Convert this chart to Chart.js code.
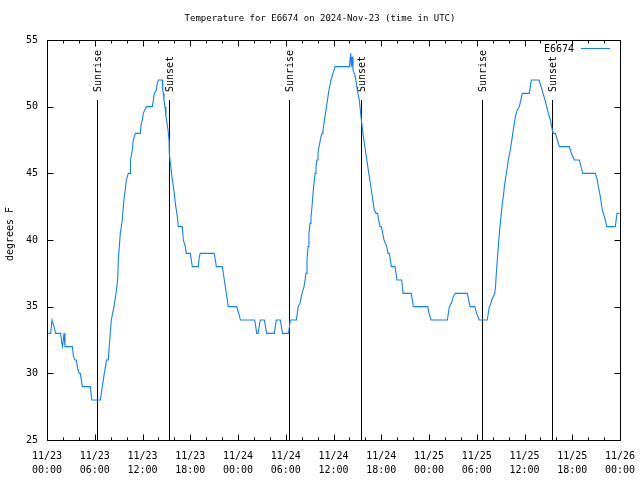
<!DOCTYPE html>
<html><head><meta charset="utf-8">
<script src="https://cdn.jsdelivr.net/npm/chart.js@4/dist/chart.umd.min.js"></script>
<style>html,body{margin:0;padding:0;background:#fff;}#wrap{width:640px;height:480px;}</style>
</head><body><div id="wrap"><canvas id="c" width="640" height="480"></canvas></div>
<script>
const titleText = 'Temperature for E6674 on 2024-Nov-23 (time in UTC)';
const seriesName = 'E6674';
const yAxisTitle = 'degrees F';
const tickDates = ['11/23','11/23','11/23','11/23','11/24','11/24','11/24','11/24','11/25','11/25','11/25','11/25','11/26'];
const tickTimes = ['00:00','06:00','12:00','18:00','00:00','06:00','12:00','18:00','00:00','06:00','12:00','18:00','00:00'];
const yTickValues = [25,30,35,40,45,50,55];
const sunEventHours = [6.32, 15.37, 30.43, 39.40, 54.60, 63.50];
const sunEventLabels = ['Sunrise','Sunset','Sunrise','Sunset','Sunrise','Sunset'];
// hours since 2024-11-23 00:00 UTC
const hours = [0.16,0.46,0.63,0.72,0.88,1.09,1.72,1.85,1.95,2.14,2.26,2.39,3.18,3.33,3.52,3.68,3.90,4.06,4.18,4.44,5.44,5.63,6.70,6.82,6.95,7.20,7.41,7.48,7.70,7.88,8.08,8.42,8.67,8.88,8.96,9.09,9.21,9.34,9.46,9.59,9.71,9.84,9.97,10.22,10.43,10.49,10.72,10.84,11.10,11.72,11.85,11.98,12.10,12.48,13.24,13.36,13.49,13.74,13.86,13.99,14.49,14.54,14.62,14.70,14.83,14.95,15.21,15.33,15.37,15.50,15.75,16.00,16.12,16.25,16.37,16.50,17.00,17.13,17.38,17.50,18.01,18.26,19.01,19.14,19.26,21.02,21.28,22.03,22.28,22.53,22.66,22.78,23.84,23.96,24.21,24.29,26.10,26.23,26.35,26.52,26.80,27.31,27.61,28.56,28.81,29.32,29.59,30.35,30.57,31.33,31.56,31.79,32.04,32.30,32.42,32.55,32.67,32.80,32.92,33.05,33.17,33.30,33.43,33.55,33.68,33.80,33.93,34.05,34.18,34.43,34.56,34.68,34.93,35.18,35.43,35.69,35.94,36.19,37.99,38.16,38.24,38.33,38.45,38.74,38.99,39.24,39.37,39.50,39.75,40.00,40.25,40.50,40.75,41.00,41.13,41.34,41.53,41.68,41.85,42.01,42.18,42.35,42.69,42.85,43.01,43.27,43.73,43.98,44.57,44.74,45.78,46.03,47.84,48.00,48.26,50.30,50.56,50.81,51.06,51.31,52.82,53.07,53.19,53.74,53.99,54.32,55.32,55.58,55.71,55.88,56.26,56.36,56.46,56.58,56.71,56.84,56.96,57.09,57.21,57.34,57.47,57.59,57.72,57.97,58.22,58.47,58.72,58.85,59.10,59.35,59.73,60.61,60.73,60.86,61.83,62.08,62.33,62.58,63.00,63.25,63.50,63.62,63.87,64.13,64.38,65.63,65.89,66.26,66.89,67.32,68.90,69.15,69.28,69.53,69.78,70.16,70.33,71.41,71.63,71.92];
const tempsF = [33,33,34,34,33.5,33,33,32.3,32,33,32,32,32,31.25,31,31,30.25,30,30,29,29,28,28,28.5,29,30,30.75,31,31,32.5,34,35,36,37,38.5,39.5,40.5,41,41.5,42.5,43.25,43.75,44.5,45,45,46,46.75,47.5,48,48,48.75,49,49.5,50,50,50.5,51,51.25,51.75,52,52,51.25,51,50.5,50,49.25,48.25,47.5,46.5,45.75,44.5,43.5,42.75,42.25,41.75,41,41,40,39.5,39,39,38,38,38.75,39,39,38,38,37,36,35.5,35,35,34.75,34.25,34,34,33.5,33,33,34,34,33,33,34,34,33,33,34,34,35,35.25,36,36.5,37,37.5,38.5,39.5,40.5,41.25,41.75,42.5,43.5,44.25,45,45.5,46,46.5,47,47.75,48,48.25,49.25,50.25,51.25,52,52.5,53,53,54,53,53.75,52.75,52.25,51.25,50.5,49.75,49,47.75,46.75,45.75,44.75,43.75,42.75,42.25,42,42,41.5,41,41,40.5,40,39.5,39,39,38,38,37,37,36,36,35,35,34.5,34,34,35,35.25,35.75,36,36,35.25,35,35,34.5,34,34,35,35.1,35.5,36,36.5,37.5,38.5,39.5,40.5,41.25,42,42.75,43.25,44,44.5,45,46,46.75,47.75,48.75,49.25,49.75,50,51,51,51.5,52,52,51.5,51,50.5,49.5,49,48.25,48,48,47.5,47,47,46.5,46,46,45,45,44.5,44,43.25,42.25,41.5,41,41,42,42];

const FONT_FAMILY = "'DejaVu Sans Mono', monospace";
const FONT_SIZE = 10;
const FONT = FONT_SIZE + 'px ' + FONT_FAMILY;
const TITLE_FONT = '9px ' + FONT_FAMILY;
const LINE_COLOR = '#1080ff';

const decor = {
  id: 'decor',
  beforeDatasetsDraw(chart) {
    const {ctx, chartArea: a, scales: {x}} = chart;
    const h = a.bottom - a.top;
    ctx.save();
    ctx.strokeStyle = '#000'; ctx.lineWidth = 1; ctx.fillStyle = '#000';
    ctx.font = FONT;
    sunEventHours.forEach((t, i) => {
      const px = Math.round(x.getPixelForValue(t)) + 0.5;
      ctx.beginPath();
      ctx.moveTo(px, a.bottom);
      ctx.lineTo(px, Math.round(a.bottom - 0.85 * h));
      ctx.stroke();
      ctx.save();
      ctx.translate(px + 1, a.bottom - 0.87 * h);
      ctx.rotate(-Math.PI / 2);
      ctx.textAlign = 'left'; ctx.textBaseline = 'middle';
      ctx.fillText(sunEventLabels[i], 0, 0);
      ctx.restore();
    });
    ctx.restore();
  },
  afterDatasetsDraw(chart) {
    const {ctx, chartArea: a, scales: {x, y}} = chart;
    ctx.save();
    ctx.strokeStyle = '#000'; ctx.lineWidth = 1;
    const L = Math.round(a.left) + 0.5, R = Math.round(a.right) + 0.5;
    const T = Math.round(a.top) + 0.5, B = Math.round(a.bottom) + 0.5;
    ctx.strokeRect(L, T, R - L, B - T);
    ctx.beginPath();
    for (let v = x.min; v <= x.max + 1e-9; v += 2) {
      const px = Math.round(x.getPixelForValue(v)) + 0.5;
      const len = (v % 6 === 0) ? 6 : 3;
      ctx.moveTo(px, B); ctx.lineTo(px, B - len);
      ctx.moveTo(px, T); ctx.lineTo(px, T + len);
    }
    yTickValues.forEach(v => {
      const py = Math.round(y.getPixelForValue(v)) + 0.5;
      ctx.moveTo(L, py); ctx.lineTo(L + 6, py);
      ctx.moveTo(R, py); ctx.lineTo(R - 6, py);
    });
    ctx.stroke();
    ctx.fillStyle = '#000';
    ctx.textBaseline = 'middle';
    ctx.textAlign = 'center';
    ctx.font = TITLE_FONT;
    ctx.fillText(titleText, 320, 19);
    ctx.font = FONT;
    ctx.textAlign = 'right';
    ctx.fillText(seriesName, 574, 49);
    ctx.strokeStyle = LINE_COLOR;
    ctx.beginPath(); ctx.moveTo(581, 48.5); ctx.lineTo(610, 48.5); ctx.stroke();
    ctx.save();
    ctx.translate(10, 234);
    ctx.rotate(-Math.PI / 2);
    ctx.textAlign = 'center';
    ctx.fillText(yAxisTitle, 0, 0);
    ctx.restore();
    ctx.restore();
  }
};

new Chart(document.getElementById('c'), {
  type: 'line',
  data: {
    datasets: [{
      label: seriesName,
      data: hours.map((t, i) => ({x: t, y: tempsF[i]})),
      borderColor: LINE_COLOR,
      borderWidth: 1.1,
      pointRadius: 0,
      tension: 0,
      fill: false
    }]
  },
  options: {
    responsive: false,
    animation: false,
    events: [],
    layout: {padding: {left: 0, right: 20, top: 40, bottom: 0}},
    plugins: {legend: {display: false}, title: {display: false}, tooltip: {enabled: false}},
    scales: {
      x: {
        type: 'linear', min: 0, max: 72,
        afterFit(s) { s.height = 40; s.paddingLeft = 0; s.paddingRight = 0; },
        afterBuildTicks(s) { s.ticks = tickDates.map((d, i) => ({value: i * 6})); },
        ticks: {
          autoSkip: false, maxRotation: 0, minRotation: 0, padding: 9, color: '#000',
          font: {family: FONT_FAMILY, size: FONT_SIZE, lineHeight: 1.4},
          callback: (v) => [tickDates[Math.round(v / 6)], tickTimes[Math.round(v / 6)]]
        },
        grid: {display: false, drawTicks: false},
        border: {display: false}
      },
      y: {
        type: 'linear', min: 25, max: 55,
        afterFit(s) { s.width = 47; s.paddingTop = 0; s.paddingBottom = 0; },
        afterBuildTicks(s) { s.ticks = yTickValues.map(v => ({value: v})); },
        ticks: {
          padding: 9, color: '#000',
          font: {family: FONT_FAMILY, size: FONT_SIZE}
        },
        grid: {display: false, drawTicks: false},
        border: {display: false}
      }
    }
  },
  plugins: [decor]
});
</script>
</body></html>
